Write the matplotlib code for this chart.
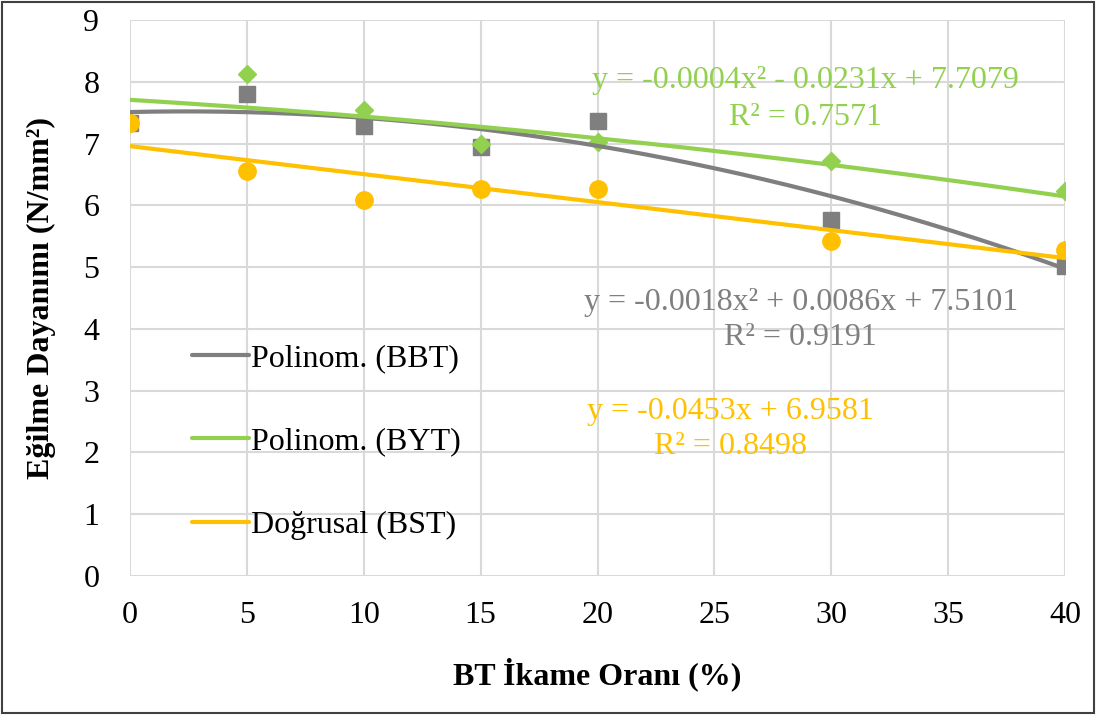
import numpy as np
import matplotlib
matplotlib.use('Agg')
import matplotlib.pyplot as plt
from matplotlib.patches import Rectangle

# data
x_vals = [0, 5, 10, 15, 20, 30, 40]
bbt = [7.33, 7.80, 7.29, 6.95, 7.36, 5.77, 5.01]
byt = [7.35, 8.12, 7.55, 6.99, 7.02, 6.71, 6.24]
bst = [7.34, 6.55, 6.09, 6.27, 6.26, 5.43, 5.28]

# trendline coefficients as printed on the chart
bbt_coef = [-0.0018, 0.0086, 7.5101]
byt_coef = [-0.0004, -0.0231, 7.7079]
bst_coef = [-0.0453, 6.9581]

GREY = '#7f7f7f'
GREEN = '#92d050'
YELLOW = '#ffc000'
FS = 23

plt.rcParams['font.family'] = ['Liberation Serif', 'DejaVu Serif']

fig = plt.figure(figsize=(10.96, 7.15), dpi=100)
ax = fig.add_axes([130 / 1096, 1 - 576 / 715, (1065 - 130) / 1096, (576 - 20) / 715])

ax.plot(x_vals, bbt, linestyle='none', marker='s', markersize=12, color=GREY, zorder=3)
ax.plot(x_vals, byt, linestyle='none', marker='D', markersize=9.5, color=GREEN, zorder=3)
ax.plot(x_vals, bst, linestyle='none', marker='o', markersize=12.5, color=YELLOW, zorder=3)

xs = np.linspace(0, 40, 200)
ax.plot(xs, np.polyval(bbt_coef, xs), color=GREY, lw=3, label='Polinom. (BBT)', zorder=4,
        solid_capstyle='round')
ax.plot(xs, np.polyval(byt_coef, xs), color=GREEN, lw=3, label='Polinom. (BYT)', zorder=4,
        solid_capstyle='round')
ax.plot(xs, np.polyval(bst_coef, xs), color=YELLOW, lw=3, label='Doğrusal (BST)', zorder=4,
        solid_capstyle='round')

ax.set_xlim(0, 40)
ax.set_ylim(0, 9)
ax.set_xticks(range(0, 41, 5))
ax.set_yticks(range(0, 10))
ax.grid(True, color='#d9d9d9', lw=1.5)
ax.set_axisbelow(True)
for s in ax.spines.values():
    s.set_visible(False)
ax.tick_params(length=0, labelsize=FS)
ax.tick_params(axis='x', pad=18)
ax.tick_params(axis='y', pad=22)

ax.set_xlabel('BT İkame Oranı (%)', fontsize=FS, fontweight='bold', labelpad=20)
ax.set_ylabel('Eğilme Dayanımı (N/mm²)', fontsize=FS, fontweight='bold', labelpad=20)

ax.text(28.9, 8.02, 'y = -0.0004x² - 0.0231x + 7.7079', color=GREEN, fontsize=FS,
        ha='center', va='center')
ax.text(28.9, 7.42, 'R² = 0.7571', color=GREEN, fontsize=FS, ha='center', va='center')
ax.text(28.7, 4.43, 'y = -0.0018x² + 0.0086x + 7.5101', color=GREY, fontsize=FS,
        ha='center', va='center')
ax.text(28.7, 3.86, 'R² = 0.9191', color=GREY, fontsize=FS, ha='center', va='center')
ax.text(25.7, 2.67, 'y = -0.0453x + 6.9581', color=YELLOW, fontsize=FS,
        ha='center', va='center')
ax.text(25.7, 2.1, 'R² = 0.8498', color=YELLOW, fontsize=FS, ha='center', va='center')

ax.legend(loc='upper left', bbox_to_anchor=(0.049, 0.447), frameon=False, fontsize=FS,
          handlelength=1.8, handletextpad=0.05, labelspacing=1.7, borderpad=0)

fig.patches.append(Rectangle((0.002, 0.003), 0.996, 0.994, transform=fig.transFigure,
                             fill=False, edgecolor='#404040', lw=1.5))

fig.savefig('out.png', dpi=100)
